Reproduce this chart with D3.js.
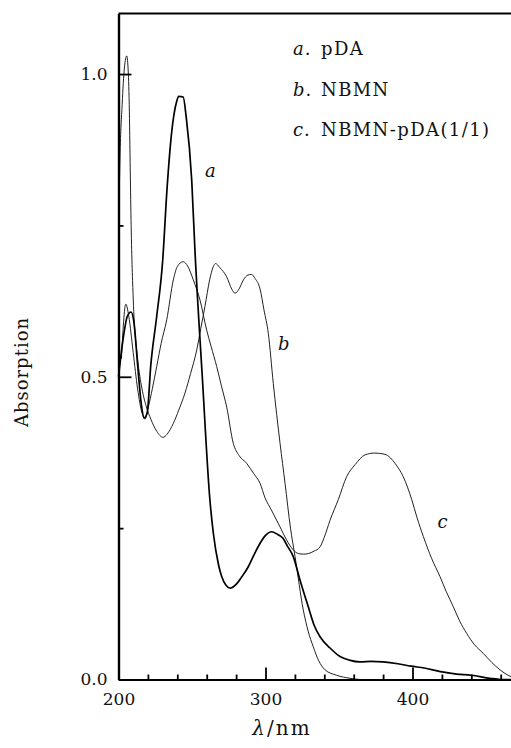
<!DOCTYPE html>
<html>
<head>
<meta charset="utf-8">
<script src="https://cdn.jsdelivr.net/npm/d3@7"></script>
<style>
  body { margin: 0; background: #fff; }
  svg { display: block; }
  text { font-family: "DejaVu Serif", serif; fill: #111; }
</style>
</head>
<body>
<svg width="511" height="748"></svg>
<script>
// ticks
var xMajor = [200, 300, 400];
var xMinor = [220, 240, 260, 280, 320, 340, 360, 380, 420, 440, 460];
var yMajor = [0, 0.5, 1.0];
var yMinor = [0.25, 0.75];

// a. pDA  (thick curve)
var pdaWl  = [200, 203, 206, 208.5, 210.5, 213, 215.5, 217.5, 219.5, 222, 226, 230, 233, 236, 239.6, 241, 244, 246, 249.8, 252, 257, 262.2, 264.5, 268, 270.2, 273, 276, 280, 284, 288, 292, 296.3, 300, 304.2, 308, 312, 315, 318.9, 323.5, 329.1, 333, 337, 343.9, 350.7, 357, 364.3, 372, 380, 390, 399, 408, 419, 430, 440, 452.7, 460, 470];
var pdaAbs = [0.50, 0.56, 0.60, 0.607, 0.59, 0.52, 0.455, 0.432, 0.44, 0.52, 0.60, 0.69, 0.81, 0.90, 0.955, 0.963, 0.962, 0.93, 0.825, 0.709, 0.50, 0.296, 0.242, 0.19, 0.170, 0.156, 0.151, 0.157, 0.17, 0.185, 0.205, 0.225, 0.238, 0.244, 0.24, 0.233, 0.22, 0.203, 0.164, 0.12, 0.09, 0.071, 0.052, 0.038, 0.032, 0.029, 0.030, 0.029, 0.026, 0.022, 0.019, 0.013, 0.009, 0.007, 0.002, 0, 0];

// b. NBMN
var nbmnWl  = [200, 201, 202.5, 204, 205.6, 206.5, 207.3, 208, 208.6, 210, 213, 216, 219, 222, 226, 230.3, 233, 237.3, 241, 245.2, 249, 253.2, 256, 258.8, 262, 264.5, 266, 269, 273.6, 277, 279.3, 282, 285, 288, 290.5, 293, 296.3, 299, 301.9, 305.3, 309.9, 313.3, 317, 320.1, 325.7, 329, 332.5, 336, 340.5, 348.4, 357.5, 365, 470];
var nbmnAbs = [0.72, 0.86, 0.95, 1.01, 1.03, 1.01, 0.95, 0.84, 0.75, 0.63, 0.53, 0.48, 0.45, 0.43, 0.41, 0.40, 0.405, 0.423, 0.445, 0.473, 0.505, 0.544, 0.58, 0.616, 0.66, 0.682, 0.687, 0.68, 0.665, 0.645, 0.638, 0.645, 0.66, 0.668, 0.669, 0.662, 0.645, 0.61, 0.572, 0.489, 0.39, 0.324, 0.25, 0.203, 0.115, 0.08, 0.054, 0.032, 0.016, 0.007, 0.002, 0, 0];

// c. NBMN-pDA(1/1)
var mixWl  = [202, 205, 207, 210, 213, 216, 218, 220.3, 223, 226, 229, 232.8, 237.3, 240, 244, 247, 250.9, 255.4, 260, 263, 266.8, 270, 273.6, 278.1, 282, 287.2, 292, 296.3, 299.7, 304, 309.9, 314, 318.9, 322.3, 326, 329.1, 333, 337.1, 340, 343.9, 349.5, 355.2, 361, 367.7, 374, 381.3, 385, 388.1, 393.7, 399.5, 403, 407.4, 413, 418.7, 423, 427.8, 432, 436.9, 442, 448.2, 454, 459.5, 465, 470];
var mixAbs = [0.53, 0.62, 0.60, 0.54, 0.48, 0.44, 0.43, 0.45, 0.48, 0.517, 0.555, 0.594, 0.66, 0.682, 0.69, 0.683, 0.66, 0.627, 0.577, 0.55, 0.517, 0.485, 0.45, 0.39, 0.37, 0.357, 0.34, 0.324, 0.30, 0.28, 0.252, 0.232, 0.214, 0.208, 0.207, 0.208, 0.212, 0.219, 0.235, 0.263, 0.297, 0.335, 0.355, 0.371, 0.374, 0.372, 0.366, 0.357, 0.335, 0.297, 0.268, 0.236, 0.20, 0.170, 0.145, 0.120, 0.097, 0.076, 0.058, 0.043, 0.028, 0.016, 0.007, 0.002];

var legendKeys  = ["a", "b", "c"];
var legendNames = ["pDA", "NBMN", "NBMN-pDA(1/1)"];

var svg = d3.select("svg");

var x = d3.scaleLinear().domain([200, 470]).range([118.5, 515.4]);
var y = d3.scaleLinear().domain([0, 1.1]).range([679.5, 13.5]);

function zip(wl, ab) {
    return wl.map(function(w, i) { return [w, ab[i]]; });
}

var line = d3.line()
    .x(function(d) { return x(d[0]); })
    .y(function(d) { return y(d[1]); })
    .curve(d3.curveMonotoneX);

var series = [
    {data: zip(nbmnWl, nbmnAbs), w: 1.0, c: "#222"},
    {data: zip(mixWl, mixAbs), w: 1.0, c: "#222"},
    {data: zip(pdaWl, pdaAbs), w: 1.7, c: "#000"}
];

svg.selectAll("path.curve")
    .data(series)
    .enter().append("path")
    .attr("class", "curve")
    .attr("d", function(d) { return line(d.data); })
    .attr("fill", "none")
    .attr("stroke", function(d) { return d.c; })
    .attr("stroke-width", function(d) { return d.w; })
    .attr("stroke-linejoin", "round");

// axes
svg.append("g")
    .attr("transform", "translate(" + x(200) + ",0)")
    .call(d3.axisLeft(y).tickValues(yMajor).tickSize(-13).tickSizeOuter(0)
        .tickPadding(11).tickFormat(d3.format(".1f")));
svg.append("g")
    .attr("transform", "translate(" + x(200) + ",0)")
    .call(d3.axisLeft(y).tickValues(yMinor).tickSize(-5).tickSizeOuter(0).tickFormat(""));

svg.append("g")
    .attr("transform", "translate(0," + y(0) + ")")
    .call(d3.axisBottom(x).tickValues(xMajor).tickSize(-12).tickSizeOuter(0).tickPadding(13));
svg.append("g")
    .attr("transform", "translate(0," + y(0) + ")")
    .call(d3.axisBottom(x).tickValues(xMinor).tickSize(-5).tickSizeOuter(0).tickFormat(""));

svg.selectAll(".domain").attr("stroke", "#000").attr("stroke-width", 2.2);
svg.selectAll(".tick line").attr("stroke", "#000").attr("stroke-width", 1.8);
svg.selectAll(".tick text")
    .attr("font-family", "DejaVu Serif")
    .attr("font-size", 17)
    .attr("fill", "#111");

// top frame line
svg.append("line")
    .attr("x1", x(200)).attr("x2", 511)
    .attr("y1", y(1.1)).attr("y2", y(1.1))
    .attr("stroke", "#000").attr("stroke-width", 2.2);

// axis titles
svg.append("text")
    .attr("transform", "translate(28," + 372 + ") rotate(-90)")
    .attr("text-anchor", "middle")
    .attr("font-size", 18)
    .attr("letter-spacing", 1)
    .text("Absorption");

var xt = svg.append("text")
    .attr("x", 282).attr("y", 735)
    .attr("text-anchor", "middle")
    .attr("font-size", 20)
    .attr("letter-spacing", 2);
xt.append("tspan").attr("font-style", "italic").text("λ");
xt.append("tspan").text("/nm");

// legend
var leg = svg.selectAll("text.leg")
    .data(legendKeys)
    .enter().append("text")
    .attr("class", "leg")
    .attr("x", 293)
    .attr("y", function(d, i) { return 55 + i * 40.5; })
    .attr("font-size", 18);
leg.append("tspan").attr("font-style", "italic").text(function(d) { return d; });
leg.append("tspan").text(".").attr("dx", 1);
leg.append("tspan").attr("x", 321)
    .attr("letter-spacing", 1.4)
    .text(function(d, i) { return legendNames[i]; });

// curve letters
var curveLabels = [
    {k: "a", wl: 262.5, ab: 0.83},
    {k: "b", wl: 312.5, ab: 0.545},
    {k: "c", wl: 420.5, ab: 0.25}
];
svg.selectAll("text.lab")
    .data(curveLabels)
    .enter().append("text")
    .attr("class", "lab")
    .attr("x", function(d) { return x(d.wl); })
    .attr("y", function(d) { return y(d.ab); })
    .attr("text-anchor", "middle")
    .attr("font-style", "italic")
    .attr("font-size", 18)
    .text(function(d) { return d.k; });
</script>
</body>
</html>
